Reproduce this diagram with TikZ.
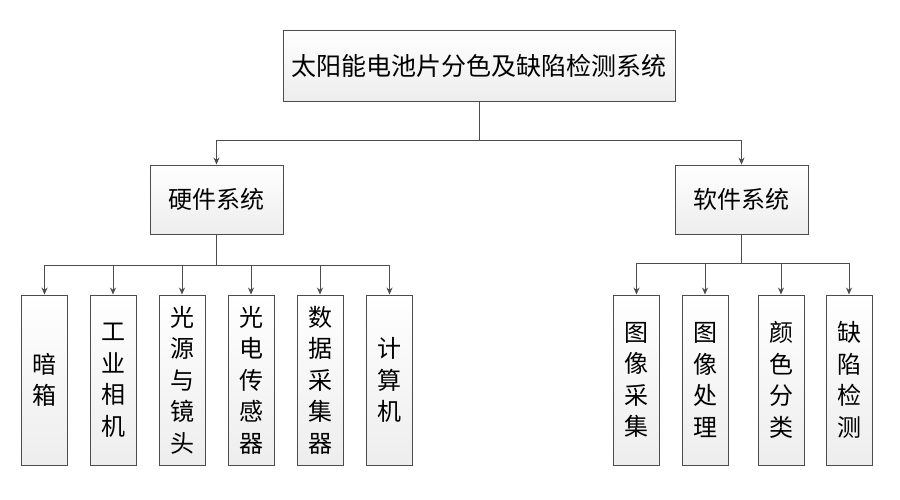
\documentclass[tikz,border=0pt]{standalone}
\usepackage{fontspec}
\setmainfont{Noto Sans CJK SC}
\usetikzlibrary{arrows.meta}
\tikzset{
  box/.style={draw=black!70, line width=0.9pt, top color=white, bottom color=gray!14, inner sep=0pt, align=center},
  leaf/.style={box, minimum width=46pt, minimum height=170pt, font=\fontsize{24pt}{31.5pt}\selectfont},
  mid/.style={box, minimum width=133pt, minimum height=69pt, font=\fontsize{24pt}{28pt}\selectfont},
  conn/.style={draw=black!70, line width=0.9pt},
  arr/.style={conn, -{Stealth[length=7pt,width=6pt]}}
}
\begin{document}
\begin{tikzpicture}[x=1pt,y=-1pt]
\useasboundingbox (0,0) rectangle (900,500);
\node[box, minimum width=392pt, minimum height=71pt, font=\fontsize{25pt}{30pt}\selectfont] (top) at (479,65.5) {太阳能电池片分色及缺陷检测系统};
\node[mid] (hw) at (216.5,199.5) {硬件系统};
\node[mid] (sw) at (741.5,199.5) {软件系统};
\coordinate (j1) at (479,140);
\draw[conn] (top.south) -- (j1);
\draw[arr] (j1) -| (hw.north);
\draw[arr] (j1) -| (sw.north);
% hardware leaves
\node[leaf] (h1) at (44.5,380) {暗\\箱};
\node[leaf] (h2) at (113,380) {工\\业\\相\\机};
\node[leaf] (h3) at (182,380) {光\\源\\与\\镜\\头};
\node[leaf] (h4) at (251,380) {光\\电\\传\\感\\器};
\node[leaf] (h5) at (320,380) {数\\据\\采\\集\\器};
\node[leaf] (h6) at (389.5,380) {计\\算\\机};
\coordinate (hb) at (216.5,265);
\draw[conn] (hw.south) -- (hb);
\foreach \n in {h1,h2,h3,h4,h5,h6} \draw[arr] (hb) -| (\n.north);
% software leaves
\node[leaf] (s1) at (636.5,380) {图\\像\\采\\集};
\node[leaf] (s2) at (705,380) {图\\像\\处\\理};
\node[leaf] (s3) at (781,380) {颜\\色\\分\\类};
\node[leaf] (s4) at (849,380) {缺\\陷\\检\\测};
\coordinate (sb) at (741.5,263);
\draw[conn] (sw.south) -- (sb);
\foreach \n in {s1,s2,s3,s4} \draw[arr] (sb) -| (\n.north);
\end{tikzpicture}
\end{document}
